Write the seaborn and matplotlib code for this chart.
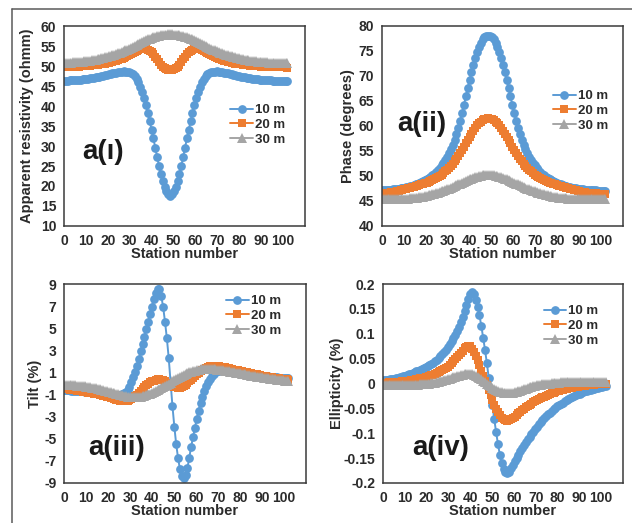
import numpy as np
import matplotlib
matplotlib.use("Agg")
import matplotlib.pyplot as plt
import seaborn as sns
from matplotlib.lines import Line2D

sns.set_style("white")
plt.rcParams['font.family'] = ['Liberation Sans', 'DejaVu Sans']
plt.rcParams['font.weight'] = 'bold'

STEP = 0.85  # station spacing of the plotted samples
depths = ["10 m", "20 m", "30 m"]
colors = ["#5B9BD5", "#ED7D31", "#A5A5A5"]
markers = ["o", "s", "^"]

# ---- a(i) Apparent resistivity (ohmm)
res_10 = [46.3, 46.3, 46.35, 46.4, 46.4, 46.45, 46.45, 46.5, 46.55, 46.6,
          46.65, 46.7, 46.8, 46.85, 46.9, 47.0, 47.05, 47.15, 47.2, 47.3,
          47.4, 47.5, 47.65, 47.75, 47.9, 48.0, 48.15, 48.25, 48.35, 48.45,
          48.55, 48.6, 48.65, 48.6, 48.55, 48.45, 48.25, 47.95, 47.5, 46.8,
          45.9, 44.8, 43.5, 41.9, 40.2, 38.3, 36.2, 34.1, 31.9, 29.6,
          27.3, 25.05, 23.0, 21.2, 19.7, 18.7, 17.9, 17.6, 17.9, 18.7,
          19.7, 21.2, 23.0, 25.05, 27.3, 29.6, 31.9, 34.1, 36.2, 38.3,
          40.2, 41.9, 43.5, 44.8, 45.9, 46.8, 47.5, 47.95, 48.25, 48.45,
          48.55, 48.6, 48.65, 48.6, 48.55, 48.45, 48.35, 48.25, 48.15, 48.0,
          47.9, 47.75, 47.65, 47.5, 47.4, 47.3, 47.2, 47.15, 47.05, 47.0,
          46.9, 46.85, 46.8, 46.7, 46.65, 46.6, 46.55, 46.5, 46.45, 46.45,
          46.4, 46.4, 46.35, 46.3, 46.3, 46.3, 46.25, 46.25, 46.2, 46.2, 46.2]
res_20 = [49.7, 49.7, 49.7, 49.75, 49.75, 49.8, 49.8, 49.85, 49.85, 49.9,
          49.9, 49.95, 50.0, 50.05, 50.1, 50.15, 50.2, 50.25, 50.3, 50.4,
          50.45, 50.55, 50.6, 50.7, 50.8, 50.9, 51.0, 51.15, 51.3, 51.45,
          51.65, 51.85, 52.05, 52.25, 52.5, 52.75, 53.0, 53.25, 53.5, 53.75,
          54.0, 54.15, 54.25, 54.3, 54.25, 54.1, 53.85, 53.45, 52.95, 52.35,
          51.65, 50.95, 50.35, 49.85, 49.45, 49.2, 49.05, 49.0, 49.05, 49.2,
          49.45, 49.85, 50.35, 50.95, 51.65, 52.35, 52.95, 53.45, 53.85, 54.1,
          54.25, 54.3, 54.25, 54.15, 54.0, 53.75, 53.5, 53.25, 53.0, 52.75,
          52.5, 52.25, 52.05, 51.85, 51.65, 51.45, 51.3, 51.15, 51.0, 50.9,
          50.8, 50.7, 50.6, 50.55, 50.45, 50.4, 50.3, 50.25, 50.2, 50.15,
          50.1, 50.05, 50.0, 49.95, 49.9, 49.9, 49.85, 49.85, 49.8, 49.8,
          49.75, 49.75, 49.7, 49.7, 49.7, 49.7, 49.65, 49.65, 49.65, 49.65, 49.6]
res_30 = [50.75, 50.75, 50.8, 50.8, 50.85, 50.9, 50.9, 50.95, 51.0, 51.05,
          51.1, 51.2, 51.25, 51.3, 51.35, 51.45, 51.55, 51.6, 51.75, 51.85,
          51.95, 52.0, 52.15, 52.25, 52.4, 52.5, 52.65, 52.8, 52.95, 53.15,
          53.3, 53.5, 53.7, 53.9, 54.1, 54.3, 54.55, 54.75, 54.95, 55.2,
          55.45, 55.7, 55.95, 56.2, 56.4, 56.65, 56.8, 57.0, 57.15, 57.3,
          57.45, 57.6, 57.7, 57.75, 57.8, 57.85, 57.9, 57.9, 57.9, 57.85,
          57.8, 57.75, 57.7, 57.6, 57.45, 57.3, 57.15, 57.0, 56.8, 56.65,
          56.4, 56.2, 55.95, 55.7, 55.45, 55.2, 54.95, 54.75, 54.55, 54.3,
          54.1, 53.9, 53.7, 53.5, 53.3, 53.15, 52.95, 52.8, 52.65, 52.5,
          52.4, 52.25, 52.15, 52.0, 51.95, 51.85, 51.75, 51.6, 51.55, 51.45,
          51.35, 51.3, 51.25, 51.2, 51.1, 51.05, 51.0, 50.95, 50.9, 50.9,
          50.85, 50.8, 50.8, 50.75, 50.75, 50.7, 50.7, 50.7, 50.7, 50.65, 50.65]

# ---- a(ii) Phase (degrees)
phase_10 = [47.1, 47.15, 47.15, 47.2, 47.2, 47.25, 47.3, 47.35, 47.4, 47.45,
            47.5, 47.6, 47.65, 47.75, 47.85, 47.95, 48.05, 48.2, 48.3, 48.45,
            48.6, 48.75, 48.9, 49.1, 49.3, 49.55, 49.8, 50.1, 50.45, 50.8,
            51.2, 51.65, 52.15, 52.65, 53.2, 53.85, 54.55, 55.3, 56.25, 57.25,
            58.35, 59.6, 61.05, 62.6, 64.2, 65.9, 67.55, 69.15, 70.75, 72.2,
            73.55, 74.8, 75.8, 76.65, 77.3, 77.7, 77.9, 78.0, 77.9, 77.7,
            77.3, 76.65, 75.8, 74.8, 73.55, 72.2, 70.75, 69.15, 67.55, 65.9,
            64.2, 62.6, 61.05, 59.6, 58.35, 57.25, 56.25, 55.3, 54.55, 53.85,
            53.2, 52.65, 52.15, 51.65, 51.2, 50.8, 50.45, 50.1, 49.8, 49.55,
            49.3, 49.1, 48.9, 48.75, 48.6, 48.45, 48.3, 48.2, 48.05, 47.95,
            47.85, 47.75, 47.65, 47.6, 47.5, 47.45, 47.4, 47.35, 47.3, 47.25,
            47.2, 47.2, 47.15, 47.15, 47.1, 47.1, 47.05, 47.05, 47.05, 47.0, 47.0]
phase_20 = [46.5, 46.55, 46.6, 46.6, 46.65, 46.7, 46.8, 46.85, 46.95, 47.05,
            47.15, 47.25, 47.35, 47.45, 47.55, 47.6, 47.7, 47.8, 47.9, 48.0,
            48.2, 48.3, 48.4, 48.55, 48.65, 48.8, 48.9, 49.1, 49.3, 49.5,
            49.75, 50.0, 50.25, 50.55, 50.9, 51.2, 51.6, 52.0, 52.4, 52.9,
            53.4, 53.95, 54.55, 55.2, 55.85, 56.55, 57.2, 57.85, 58.45, 59.0,
            59.6, 60.1, 60.55, 60.85, 61.15, 61.35, 61.45, 61.5, 61.45, 61.35,
            61.15, 60.85, 60.55, 60.1, 59.6, 59.0, 58.45, 57.85, 57.2, 56.55,
            55.85, 55.2, 54.55, 53.95, 53.4, 52.9, 52.4, 52.0, 51.6, 51.2,
            50.9, 50.55, 50.25, 50.0, 49.75, 49.5, 49.3, 49.1, 48.9, 48.8,
            48.65, 48.55, 48.4, 48.3, 48.2, 48.0, 47.9, 47.8, 47.7, 47.6,
            47.55, 47.45, 47.35, 47.25, 47.15, 47.05, 46.95, 46.85, 46.8, 46.7,
            46.65, 46.6, 46.6, 46.55, 46.5, 46.5, 46.45, 46.45, 46.45, 46.4, 46.4]
phase_30 = [45.4, 45.4, 45.4, 45.35, 45.35, 45.35, 45.35, 45.35, 45.35, 45.35,
            45.35, 45.4, 45.4, 45.4, 45.45, 45.5, 45.5, 45.55, 45.6, 45.65,
            45.7, 45.8, 45.85, 45.95, 46.0, 46.1, 46.2, 46.3, 46.4, 46.55,
            46.65, 46.8, 46.95, 47.05, 47.2, 47.35, 47.45, 47.6, 47.8, 47.95,
            48.1, 48.3, 48.45, 48.6, 48.8, 48.95, 49.15, 49.3, 49.45, 49.6,
            49.75, 49.85, 49.95, 50.05, 50.15, 50.2, 50.25, 50.25, 50.25, 50.2,
            50.15, 50.05, 49.95, 49.85, 49.75, 49.6, 49.45, 49.3, 49.15, 48.95,
            48.8, 48.6, 48.45, 48.3, 48.1, 47.95, 47.8, 47.6, 47.45, 47.35,
            47.2, 47.05, 46.95, 46.8, 46.65, 46.55, 46.4, 46.3, 46.2, 46.1,
            46.0, 45.95, 45.85, 45.8, 45.7, 45.65, 45.6, 45.55, 45.5, 45.5,
            45.45, 45.4, 45.4, 45.4, 45.35, 45.35, 45.35, 45.35, 45.35, 45.35,
            45.35, 45.35, 45.4, 45.4, 45.4, 45.4, 45.4, 45.4, 45.4, 45.4, 45.4]

# ---- a(iii) Tilt (%)
tilt_10 = [-0.6, -0.61, -0.62, -0.63, -0.64, -0.65, -0.66, -0.67, -0.69, -0.7,
           -0.72, -0.74, -0.76, -0.78, -0.8, -0.82, -0.85, -0.87, -0.9, -0.92,
           -0.95, -0.97, -1.0, -1.02, -1.05, -1.07, -1.09, -1.1, -1.1, -1.08,
           -1.03, -0.95, -0.85, -0.75, -0.55, -0.3, 0.1, 0.55, 1.05, 1.6,
           2.2, 2.9, 3.55, 4.25, 4.9, 5.6, 6.3, 6.95, 7.65, 8.2,
           8.55, 8.55, 7.9, 6.95, 5.6, 4.1, 2.3, 0.1, -2.05, -3.9,
           -5.5, -6.75, -7.75, -8.4, -8.55, -8.25, -7.65, -6.7, -5.7, -4.85,
           -4.0, -3.2, -2.45, -1.75, -1.2, -0.7, -0.25, 0.15, 0.45, 0.7,
           0.9, 1.03, 1.12, 1.17, 1.2, 1.2, 1.2, 1.18, 1.16, 1.14,
           1.12, 1.09, 1.06, 1.03, 1.0, 0.98, 0.95, 0.93, 0.9, 0.88,
           0.85, 0.83, 0.8, 0.78, 0.75, 0.73, 0.7, 0.68, 0.66, 0.64,
           0.62, 0.61, 0.59, 0.57, 0.55, 0.54, 0.52, 0.51, 0.5, 0.49, 0.48]
tilt_20 = [-0.5, -0.52, -0.54, -0.56, -0.58, -0.6, -0.62, -0.65, -0.68, -0.7,
           -0.73, -0.76, -0.79, -0.82, -0.86, -0.89, -0.92, -0.96, -0.99, -1.03,
           -1.07, -1.11, -1.16, -1.2, -1.25, -1.3, -1.35, -1.4, -1.45, -1.5,
           -1.54, -1.57, -1.58, -1.58, -1.55, -1.48, -1.4, -1.28, -1.15, -1.0,
           -0.85, -0.68, -0.5, -0.33, -0.17, -0.02, 0.1, 0.2, 0.27, 0.33,
           0.37, 0.38, 0.35, 0.3, 0.2, 0.08, -0.05, -0.15, -0.24, -0.3,
           -0.35, -0.38, -0.38, -0.33, -0.25, -0.13, 0.02, 0.19, 0.36, 0.53,
           0.7, 0.85, 0.98, 1.11, 1.23, 1.33, 1.42, 1.49, 1.54, 1.58,
           1.6, 1.6, 1.58, 1.56, 1.53, 1.5, 1.46, 1.42, 1.39, 1.35,
           1.3, 1.26, 1.22, 1.18, 1.15, 1.11, 1.07, 1.03, 1.0, 0.96,
           0.92, 0.89, 0.85, 0.82, 0.78, 0.75, 0.72, 0.69, 0.66, 0.63,
           0.6, 0.57, 0.54, 0.51, 0.48, 0.46, 0.43, 0.41, 0.39, 0.37, 0.36]
tilt_30 = [-0.12, -0.13, -0.14, -0.15, -0.16, -0.17, -0.18, -0.2, -0.22, -0.24,
           -0.25, -0.27, -0.29, -0.32, -0.35, -0.37, -0.4, -0.43, -0.46, -0.5,
           -0.55, -0.59, -0.64, -0.68, -0.73, -0.78, -0.83, -0.88, -0.93, -0.98,
           -1.03, -1.07, -1.11, -1.15, -1.19, -1.22, -1.24, -1.25, -1.26, -1.26,
           -1.23, -1.2, -1.16, -1.11, -1.05, -0.99, -0.92, -0.83, -0.74, -0.65,
           -0.56, -0.47, -0.38, -0.29, -0.2, -0.11, -0.01, 0.09, 0.19, 0.29,
           0.4, 0.5, 0.59, 0.68, 0.77, 0.86, 0.93, 1.0, 1.06, 1.12,
           1.17, 1.22, 1.26, 1.29, 1.32, 1.33, 1.34, 1.34, 1.33, 1.32,
           1.3, 1.28, 1.26, 1.24, 1.21, 1.18, 1.16, 1.13, 1.1, 1.07,
           1.04, 1.01, 0.98, 0.95, 0.92, 0.89, 0.86, 0.82, 0.79, 0.76,
           0.72, 0.69, 0.66, 0.63, 0.6, 0.57, 0.55, 0.52, 0.49, 0.47,
           0.44, 0.42, 0.4, 0.37, 0.35, 0.33, 0.31, 0.29, 0.27, 0.25, 0.23]

# ---- a(iv) Ellipticity (%)
ell_10 = [0.007, 0.007, 0.008, 0.008, 0.009, 0.0095, 0.01, 0.011, 0.012, 0.013,
          0.014, 0.015, 0.016, 0.018, 0.019, 0.02, 0.022, 0.023, 0.025, 0.026,
          0.028, 0.03, 0.031, 0.033, 0.035, 0.037, 0.04, 0.042, 0.045, 0.048,
          0.051, 0.055, 0.059, 0.063, 0.068, 0.073, 0.079, 0.085, 0.091, 0.098,
          0.105, 0.113, 0.123, 0.134, 0.145, 0.157, 0.169, 0.179, 0.183, 0.179,
          0.168, 0.154, 0.137, 0.116, 0.092, 0.068, 0.041, 0.012, -0.017, -0.044,
          -0.072, -0.098, -0.122, -0.143, -0.159, -0.171, -0.178, -0.18, -0.177, -0.17,
          -0.163, -0.156, -0.149, -0.143, -0.136, -0.13, -0.124, -0.118, -0.112, -0.107,
          -0.102, -0.097, -0.092, -0.087, -0.082, -0.078, -0.074, -0.07, -0.066, -0.062,
          -0.059, -0.055, -0.052, -0.049, -0.046, -0.044, -0.041, -0.039, -0.036, -0.034,
          -0.032, -0.03, -0.028, -0.026, -0.024, -0.022, -0.021, -0.019, -0.018, -0.016,
          -0.015, -0.014, -0.013, -0.012, -0.011, -0.01, -0.009, -0.008, -0.007, -0.006, -0.005]
ell_20 = [0.002, 0.002, 0.002, 0.003, 0.003, 0.003, 0.003, 0.004, 0.004, 0.004,
          0.005, 0.005, 0.005, 0.006, 0.006, 0.007, 0.008, 0.008, 0.009, 0.01,
          0.011, 0.012, 0.012, 0.013, 0.014, 0.015, 0.017, 0.018, 0.019, 0.021,
          0.023, 0.025, 0.027, 0.029, 0.032, 0.034, 0.038, 0.041, 0.045, 0.049,
          0.053, 0.057, 0.062, 0.066, 0.071, 0.074, 0.076, 0.075, 0.07, 0.064,
          0.056, 0.047, 0.037, 0.026, 0.016, 0.006, -0.003, -0.013, -0.024, -0.034,
          -0.043, -0.051, -0.058, -0.064, -0.069, -0.072, -0.074, -0.075, -0.074, -0.072,
          -0.07, -0.067, -0.064, -0.06, -0.057, -0.054, -0.051, -0.048, -0.046, -0.043,
          -0.041, -0.038, -0.036, -0.034, -0.032, -0.03, -0.028, -0.027, -0.025, -0.023,
          -0.022, -0.02, -0.019, -0.018, -0.016, -0.015, -0.014, -0.013, -0.012, -0.011,
          -0.01, -0.009, -0.009, -0.008, -0.007, -0.007, -0.006, -0.006, -0.005, -0.005,
          -0.004, -0.004, -0.003, -0.003, -0.003, -0.002, -0.002, -0.002, -0.002, -0.001, -0.001]
ell_30 = [-0.003, -0.003, -0.003, -0.0035, -0.0035, -0.004, -0.004, -0.004, -0.004, -0.004,
          -0.004, -0.004, -0.004, -0.004, -0.0035, -0.0035, -0.0035, -0.003, -0.003, -0.0025,
          -0.002, -0.002, -0.0015, -0.001, -0.0005, 0.0, 0.001, 0.0015, 0.002, 0.003,
          0.004, 0.005, 0.006, 0.007, 0.008, 0.009, 0.01, 0.011, 0.013, 0.014,
          0.015, 0.016, 0.017, 0.018, 0.019, 0.02, 0.02, 0.0195, 0.019, 0.018,
          0.016, 0.014, 0.012, 0.009, 0.006, 0.003, 0.0, -0.003, -0.006, -0.009,
          -0.011, -0.013, -0.015, -0.017, -0.018, -0.019, -0.02, -0.02, -0.02, -0.0195,
          -0.019, -0.018, -0.017, -0.016, -0.0145, -0.013, -0.012, -0.0105, -0.009, -0.008,
          -0.007, -0.006, -0.005, -0.004, -0.003, -0.0025, -0.002, -0.0015, -0.001, -0.0005,
          0.0, 0.0005, 0.001, 0.0015, 0.002, 0.002, 0.0025, 0.0025, 0.003, 0.003,
          0.003, 0.003, 0.003, 0.003, 0.003, 0.003, 0.003, 0.003, 0.003, 0.003,
          0.003, 0.003, 0.003, 0.003, 0.003, 0.003, 0.003, 0.003, 0.003, 0.003, 0.003]

x_ticks = [0, 10, 20, 30, 40, 50, 60, 70, 80, 90, 100, 110]
x_ticklabels = ["0", "10", "20", "30", "40", "50", "60", "70", "80", "90", "100", ""]

TXT = "#2b2b2b"
SPINE = "#3a3a3a"

fig = plt.figure(figsize=(6.32, 5.23), dpi=100)
fig.patch.set_facecolor("white")

W, H = 632.0, 523.0
def add_ax(left, top, right, bottom):
    return fig.add_axes([left / W, 1 - bottom / H, (right - left) / W, (bottom - top) / H])

axes = [add_ax(64, 26, 305, 226), add_ax(382, 26, 623, 226),
        add_ax(64, 284, 306, 483), add_ax(383, 284, 623, 483)]

panels = [
    dict(series=[res_10, res_20, res_30], ylim=(10, 60),
         yticks=list(range(10, 61, 5)), yticklabels=[str(v) for v in range(10, 61, 5)],
         ylabel="Apparent resistivity (ohmm)", ylab_x=-0.155, label="a(ı)",
         lab_xy=(0.075, 0.37), leg_xy=(0.69, 0.61)),
    dict(series=[phase_10, phase_20, phase_30], ylim=(40, 80),
         yticks=list(range(40, 81, 5)), yticklabels=[str(v) for v in range(40, 81, 5)],
         ylabel="Phase (degrees)", ylab_x=-0.142, label="a(ii)",
         lab_xy=(0.062, 0.51), leg_xy=(0.71, 0.68)),
    dict(series=[tilt_10, tilt_20, tilt_30], ylim=(-9, 9),
         yticks=list(range(-9, 10, 2)), yticklabels=[str(v) for v in range(-9, 10, 2)],
         ylabel="Tilt (%)", ylab_x=-0.12, label="a(iii)",
         lab_xy=(0.1, 0.176), leg_xy=(0.67, 0.945)),
    dict(series=[ell_10, ell_20, ell_30], ylim=(-0.2, 0.2),
         yticks=[-0.2, -0.15, -0.1, -0.05, 0, 0.05, 0.1, 0.15, 0.2],
         yticklabels=["-0.2", "-0.15", "-0.1", "-0.05", "0", "0.05", "0.1", "0.15", "0.2"],
         ylabel="Ellipticity (%)", ylab_x=-0.192, label="a(iv)",
         lab_xy=(0.12, 0.176), leg_xy=(0.67, 0.895)),
]

msizes = [6.3, 5.4, 7.0]

for ax, p in zip(axes, panels):
    for vals, lab, col, mk, ms in zip(p["series"], depths, colors, markers, msizes):
        xs = np.arange(len(vals)) * STEP
        sns.lineplot(x=xs, y=np.asarray(vals, dtype=float), ax=ax, color=col,
                     marker=mk, markersize=ms, markeredgewidth=0, markeredgecolor=col,
                     linewidth=1.4, label=lab, sort=False, errorbar=None)
    ax.set_xlim(0, 110)
    ax.set_ylim(*p["ylim"])
    ax.set_xticks(x_ticks)
    ax.set_xticklabels(x_ticklabels)
    ax.set_yticks(p["yticks"])
    ax.set_yticklabels(p["yticklabels"])
    ax.tick_params(axis="both", direction="out", length=4, width=1.0, color=SPINE,
                   labelsize=10, labelcolor=TXT, pad=1.5)
    ax.tick_params(axis="x", pad=2)
    for s in ax.spines.values():
        s.set_visible(True)
        s.set_color(SPINE)
        s.set_linewidth(1.1)
    ax.set_xlabel("Station number", fontsize=10.5, fontweight="bold", color=TXT)
    ax.xaxis.set_label_coords(0.5, -0.105)
    ax.set_ylabel(p["ylabel"], fontsize=10.5, fontweight="bold", color=TXT, va="center")
    ax.yaxis.set_label_coords(p["ylab_x"], 0.5)
    ax.text(p["lab_xy"][0], p["lab_xy"][1], p["label"], transform=ax.transAxes,
            fontsize=20, fontweight="bold", ha="left", va="center", color="#1a1a1a")
    leg = ax.legend(loc="upper left", bbox_to_anchor=p["leg_xy"], frameon=False,
                    prop={"weight": "bold", "size": 9.5}, handlelength=1.7,
                    handletextpad=0.15, labelspacing=0.2, borderpad=0, borderaxespad=0)
    for t in leg.get_texts():
        t.set_color(TXT)

# outer frame (top and left rules)
fig.add_artist(Line2D([12 / W, 1.0], [1 - 9 / H, 1 - 9 / H], transform=fig.transFigure,
                      color="#5a5a5a", linewidth=1.1))
fig.add_artist(Line2D([12 / W, 12 / W], [0.0, 1 - 9 / H], transform=fig.transFigure,
                      color="#5a5a5a", linewidth=1.1))

fig.savefig("out.png", dpi=100, facecolor="white")
